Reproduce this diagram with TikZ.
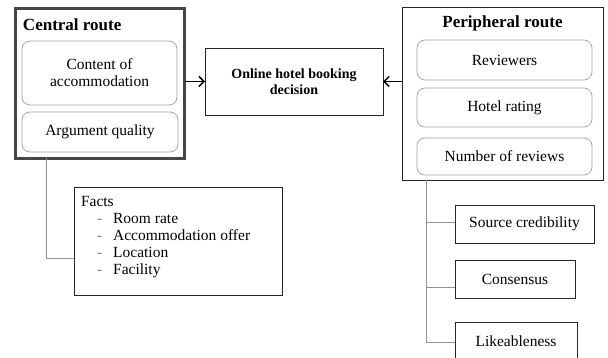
\documentclass[tikz,border=0pt]{standalone}
\usepackage{fontspec}
\setmainfont{Liberation Serif}
\usetikzlibrary{arrows.meta,shadows}
\begin{document}
\begin{tikzpicture}[x=1pt,y=-1pt,
  every node/.style={inner sep=0pt,outer sep=0pt},
  txt/.style={font=\fontsize{15.5}{17}\selectfont},
  ttl/.style={font=\fontsize{17}{19}\selectfont\bfseries},
  plainbox/.style={draw=black!85,line width=0.9pt,fill=white,txt,align=center},
  roundbox/.style={draw=gray!75,line width=0.7pt,rounded corners=8pt,txt,align=center},
  conn/.style={draw=gray!85,line width=1pt},
  arr/.style={draw=black,line width=1.5pt,-{Straight Barb[length=5pt,width=10pt]}}]
\clip (0,0) rectangle (608,358);
\fill[white] (0,0) rectangle (608,358);
% central route
\node[draw=gray!55!black,line width=3pt,fill=white,minimum width=169pt,minimum height=150pt,
  general shadow={shadow xshift=1.5pt,shadow yshift=-1.5pt,fill=gray!40}] (central) at (100,83.5) {};
\node[ttl,anchor=west] (ctitle) at (23,25) {Central route};
\node[roundbox,minimum width=155pt,minimum height=64pt] (content) at (99.5,73) {Content of\\accommodation};
\node[roundbox,minimum width=156pt,minimum height=40pt] (argq) at (100,132) {Argument quality};
% decision
\node[plainbox,minimum width=178pt,minimum height=67pt,font=\fontsize{14}{16}\selectfont\bfseries] (decision) at (294,81.5) {Online hotel booking\\decision};
% peripheral route
\node[plainbox,minimum width=201pt,minimum height=173pt] (peri) at (502.5,93.5) {};
\node[ttl] (ptitle) at (502.5,23) {Peripheral route};
\node[roundbox,minimum width=175pt,minimum height=40pt] (rev) at (504.5,60) {Reviewers};
\node[roundbox,minimum width=175pt,minimum height=39pt] (hr) at (504.5,107.5) {Hotel rating};
\node[roundbox,minimum width=175pt,minimum height=37pt] (nr) at (504.5,156.5) {Number of reviews};
% arrows
\draw[arr] (central.east |- decision.west) -- (decision.west);
\draw[arr] (peri.west |- decision.east) -- (decision.east);
% facts
\node[plainbox,minimum width=208pt,minimum height=108pt] (facts) at (178,241) {};
\node[txt,align=left,anchor=north west] (factstext) at (81,196.5) {Facts\\
\hspace*{16pt}{\color{gray}-}\hspace*{11pt}Room rate\\
\hspace*{16pt}{\color{gray}-}\hspace*{11pt}Accommodation offer\\
\hspace*{16pt}{\color{gray}-}\hspace*{11pt}Location\\
\hspace*{16pt}{\color{gray}-}\hspace*{11pt}Facility};
\coordinate (c1) at (46,259);
\draw[conn] (central.south -| c1) -- (c1) -- (c1 -| facts.west);
% peripheral cues
\node[plainbox,minimum width=139pt,minimum height=38pt] (src) at (524.5,224) {Source credibility};
\node[plainbox,minimum width=120pt,minimum height=38pt] (cons) at (515,279) {Consensus};
\node[plainbox,minimum width=122pt,minimum height=38pt] (like) at (516,341) {Likeableness};
\coordinate (p0) at (426,180);
\coordinate (b1) at (426,223);
\coordinate (b2) at (426,288);
\coordinate (b3) at (426,342);
\draw[conn] (peri.south -| p0) -- (b3) -- (b3 -| like.west);
\draw[conn] (b1) -- (b1 -| src.west);
\draw[conn] (b2) -- (b2 -| cons.west);
\end{tikzpicture}
\end{document}
